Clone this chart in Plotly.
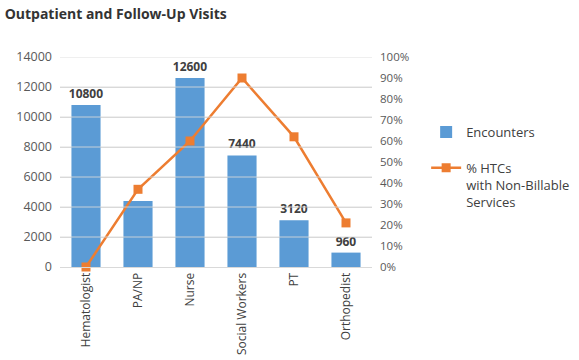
import plotly.graph_objects as go

categories = ["Hematologist", "PA/NP", "Nurse", "Social Workers", "PT", "Orthopedist"]
encounters = [10800, 4400, 12600, 7440, 3120, 960]
encounter_labels = ["10800", "", "12600", "7440", "3120", "960"]
pct_htcs = [0.0, 0.37, 0.60, 0.90, 0.62, 0.21]

left_ticks = list(range(0, 14001, 2000))
left_ticktext = [str(v) for v in left_ticks]
right_ticks = [i / 10 for i in range(11)]

FONT = "Open Sans"
BLUE = "#5B9BD5"
ORANGE = "#ED7D31"
GRID = "#D9D9D9"
TICK_COLOR = "#595959"

fig = go.Figure()
fig.add_trace(go.Bar(
    x=categories, y=encounters, name="Encounters", legendgroup="a",
    marker=dict(color=BLUE, line=dict(width=0)),
    text=encounter_labels, textposition="outside", constraintext="none",
    textfont=dict(family=FONT, size=12, color="#404040", weight="bold"),
    cliponaxis=False,
))
fig.add_trace(go.Scatter(
    x=categories, y=pct_htcs, name="% HTCs<br>with Non-Billable<br>Services",
    legendgroup="b",
    mode="lines+markers", yaxis="y2",
    line=dict(color=ORANGE, width=2.5),
    marker=dict(symbol="square", size=9, color=ORANGE),
    cliponaxis=False,
))

# gridlines drawn over the bars, as in the reference
for v in left_ticks[1:]:
    fig.add_shape(type="line", xref="paper", x0=0, x1=1, yref="y", y0=v, y1=v,
                  line=dict(color="rgba(217,217,217,0.85)", width=1), layer="above")

fig.update_layout(
    width=579, height=360,
    margin=dict(l=60, r=207, t=57, b=93),
    paper_bgcolor="white", plot_bgcolor="white",
    font=dict(family=FONT, size=12, color=TICK_COLOR),
    title=dict(text="<b>Outpatient and Follow-Up Visits</b>",
               x=0.008, xanchor="left", xref="container",
               y=0.962, yanchor="middle", yref="container",
               font=dict(family=FONT, size=14, color="#333333")),
    bargap=0.44,
    showlegend=True,
    legend=dict(x=0.736, y=0.675, xref="container", yref="container",
                xanchor="left", yanchor="top", valign="top",
                font=dict(family=FONT, size=13, color="#404040"),
                tracegroupgap=16, bgcolor="rgba(0,0,0,0)"),
    xaxis=dict(tickangle=-90, showgrid=False, showline=True, linecolor=GRID,
               ticks="", tickfont=dict(size=12, color="#404040"), automargin=False),
    yaxis=dict(range=[0, 14000], tickvals=left_ticks, ticktext=left_ticktext,
               showgrid=True, gridcolor=GRID, ticklabelstandoff=7,
               zeroline=False, ticks="", tickfont=dict(size=12.5, color=TICK_COLOR),
               automargin=False),
    yaxis2=dict(range=[0, 1], tickvals=right_ticks, tickformat=".0%", overlaying="y",
                side="right", showgrid=False, zeroline=False, ticks="",
                ticklabelstandoff=7,
                tickfont=dict(size=11.5, color=TICK_COLOR), automargin=False),
)

fig.write_html("out.html", config={"displayModeBar": False},
               post_script="document.body.style.margin='0';")
